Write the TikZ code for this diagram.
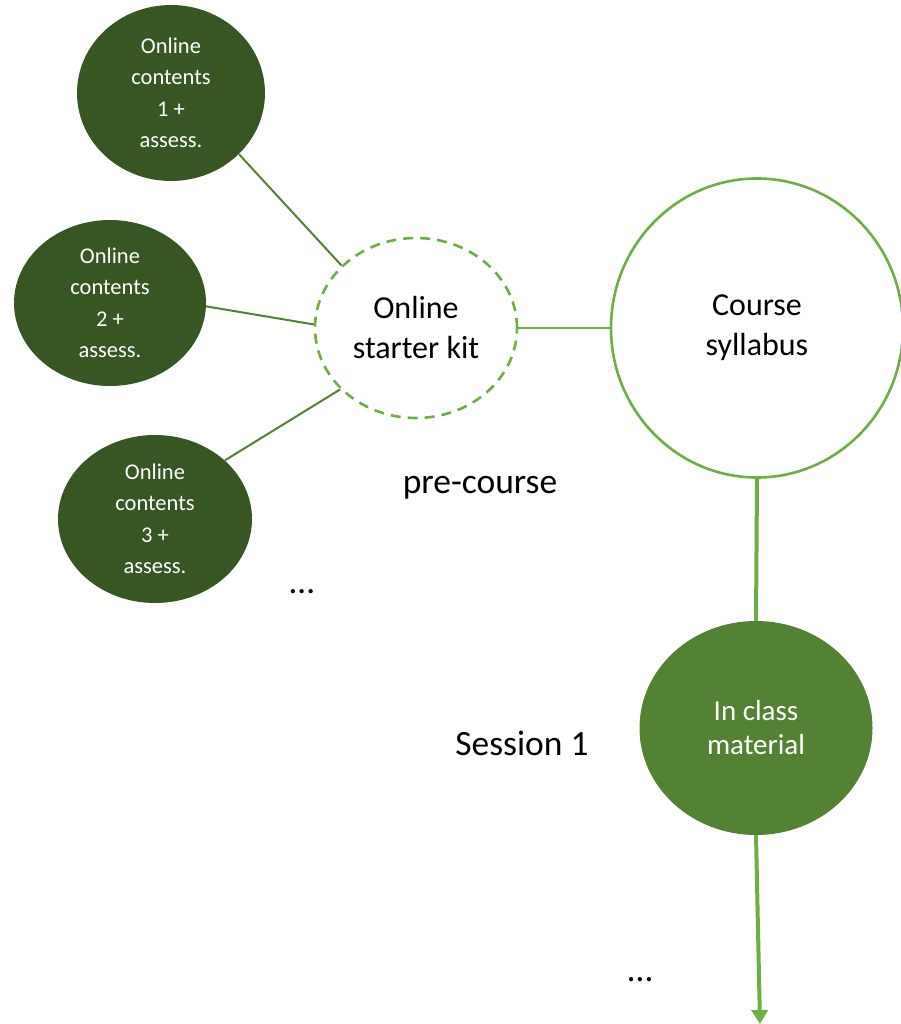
\documentclass[tikz,border=0pt]{standalone}
\usepackage{fontspec}
\setmainfont{Carlito}
\usetikzlibrary{shapes.geometric,arrows.meta}
\definecolor{deepgreen}{HTML}{375623}
\definecolor{midgreen}{HTML}{548235}
\definecolor{lightgreen}{HTML}{70AD47}
\begin{document}
\begin{tikzpicture}[x=1pt,y=-1pt,
  topic/.style={ellipse,fill=deepgreen,draw=none,text=white,align=center,
    inner sep=0pt,font=\fontsize{22.5}{31.5}\selectfont},
  kit/.style={ellipse,draw=lightgreen,line width=2.6pt,dash pattern=on 10pt off 7pt,
    align=center,inner sep=0pt,font=\fontsize{32}{40}\selectfont},
  syllabus/.style={ellipse,draw=lightgreen,line width=2.6pt,fill=white,align=center,
    inner sep=0pt,font=\fontsize{32}{40}\selectfont},
  session/.style={ellipse,fill=midgreen,draw=none,text=white,align=center,
    inner sep=0pt,font=\fontsize{29}{34}\selectfont},
  label/.style={font=\fontsize{35.5}{40}\selectfont,inner sep=0pt},
  thinlink/.style={draw=midgreen,line width=2pt},
  thicklink/.style={draw=lightgreen,line width=4pt},
]
\useasboundingbox (0,0) rectangle (901,1024);

% pre-course material
\node[topic,minimum width=188pt,minimum height=176pt] (c1) at (171,93)
  {Online\\contents\\1 +\\assess.};
\node[topic,minimum width=192pt,minimum height=166pt] (c2) at (110,303)
  {Online\\contents\\2 +\\assess.};
\node[topic,minimum width=194pt,minimum height=168pt] (c3) at (155,519)
  {Online\\contents\\3 +\\assess.};
\node[kit,minimum width=202pt,minimum height=180pt] (kit) at (416,328)
  {Online\\starter kit};
\node[syllabus,minimum width=292pt,minimum height=299pt] (syl) at (757,328)
  {Course\\syllabus};

% first session
\node[session,minimum width=233pt,minimum height=214pt] (s1) at (756,728)
  {In class\\material};

% free labels
\node[label] (pre) at (480,488) {pre-course};
\node[label] (ses) at (522,743) {Session 1};
\node[label] (dots1) at (302,592) {…};
\node[label] (dots2) at (640,980) {…};

% connectors
\draw[thinlink] (c1.-42) -- (kit.140);
\draw[thinlink] (c2.-2) -- (kit.178);
\draw[thinlink] (c3.40) -- (kit.-141);
\draw[draw=lightgreen,line width=2pt] (kit.east) -- (syl.west);
\draw[thicklink] (syl.south) -- (s1.north);
\coordinate (tail) at (760,1024);
\draw[thicklink,-{Triangle[width=16pt,length=14pt]}] (s1.south) -- (tail);
\end{tikzpicture}
\end{document}
